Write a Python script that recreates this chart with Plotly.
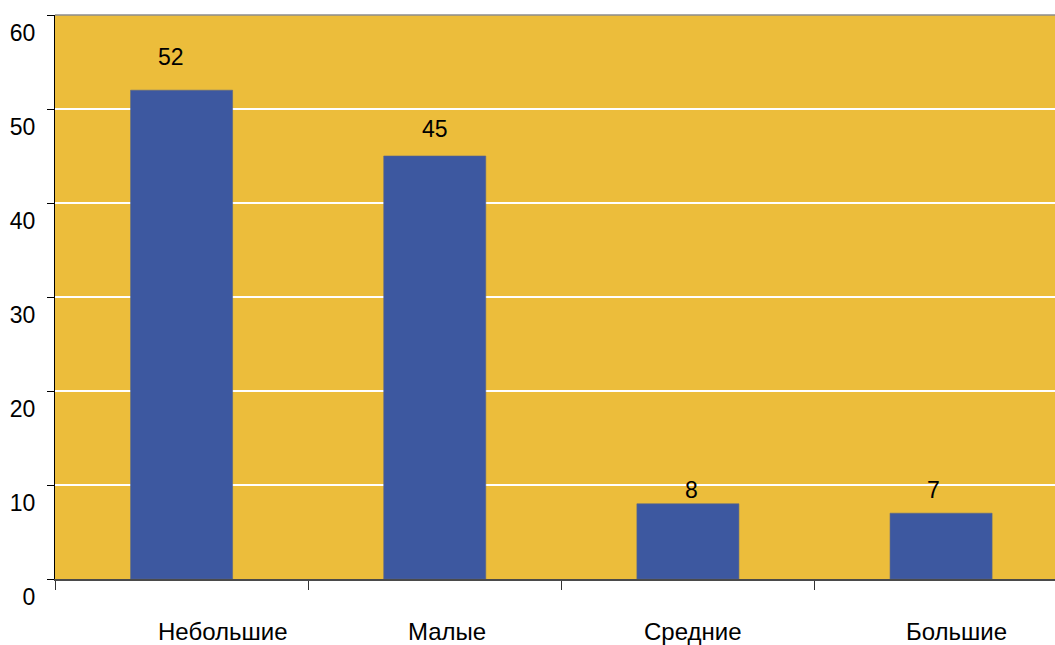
import plotly.graph_objects as go

categories = ["Небольшие", "Малые", "Средние", "Большие"]
values = [52, 45, 8, 7]
y_ticks = [0, 10, 20, 30, 40, 50, 60]

# offsets (px) of the value labels from the top centre of each bar
label_dx = [-11, 0, 4, -8]
label_dy = [33, 27, 14, 23]
# offsets (px) of the category captions from each category centre
cat_dx = [41, 12, 5, 15]
cat_dy = [-52, -52, -52, -52]

FONT = "Liberation Sans, Arial, sans-serif"
GOLD = "#ecbd3b"
BLUE = "#3d58a0"

fig = go.Figure()
fig.add_trace(go.Bar(
    x=categories,
    y=values,
    marker=dict(color=BLUE, line=dict(color="#5a6688", width=0.6)),
    width=0.403,
    hoverinfo="x+y",
))

for cat, val, dx, dy in zip(categories, values, label_dx, label_dy):
    fig.add_annotation(
        x=cat, y=val, text=str(val), showarrow=False,
        xshift=dx, yshift=dy, font=dict(family=FONT, size=23, color="black"),
    )

for cat, dx, dy in zip(categories, cat_dx, cat_dy):
    fig.add_annotation(
        x=cat, xref="x", y=0, yref="paper", text=cat, showarrow=False,
        yanchor="middle", xshift=dx, yshift=dy,
        font=dict(family=FONT, size=24, color="black"),
    )

# top border of the plot area
fig.add_shape(type="line", xref="paper", yref="paper", x0=0, x1=1, y0=1, y1=1,
              line=dict(color="#8c8c8c", width=1.5))

fig.update_layout(
    width=1055, height=645,
    margin=dict(l=55, r=0, t=15, b=66),
    paper_bgcolor="white",
    plot_bgcolor=GOLD,
    showlegend=False,
    font=dict(family=FONT, size=23, color="black"),
)
fig.update_xaxes(
    type="category",
    range=[-0.5, 3.45],
    showgrid=False,
    showline=True, linecolor="#4a4a4a", linewidth=2,
    ticks="outside", tickson="boundaries", ticklen=9, tickcolor="#333333", tickwidth=1,
    showticklabels=False,
)
fig.update_yaxes(
    range=[0, 60],
    tickvals=y_ticks,
    showgrid=True, gridcolor="white", gridwidth=2,
    zeroline=False,
    showline=True, linecolor="black", linewidth=1,
    ticks="outside", ticklen=7, tickcolor="black", tickwidth=1,
    ticklabelshift=18, ticklabelstandoff=7,
    tickfont=dict(family=FONT, size=23, color="black"),
)

fig.write_html("out.html")
